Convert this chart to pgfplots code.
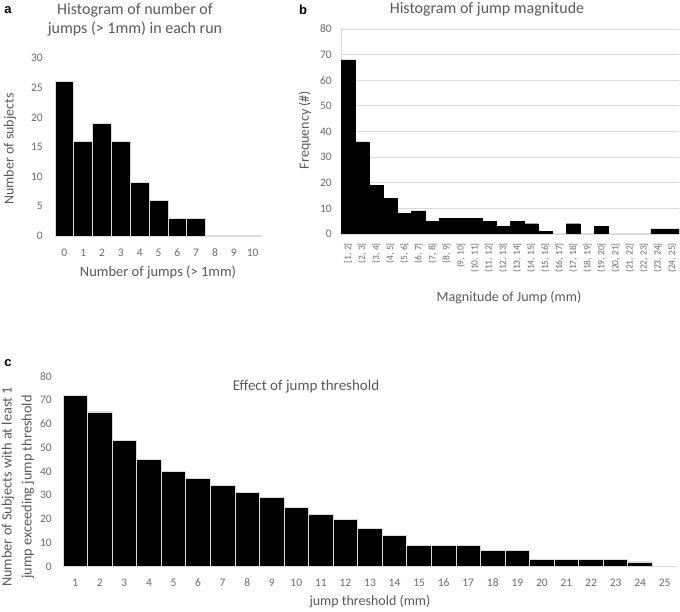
\documentclass[border=0pt]{standalone}
\usepackage{fontspec}
\setmainfont{Carlito}
\newfontfamily\arialf{Liberation Sans}
\usepackage{pgfplots}
\pgfplotsset{compat=1.18}
\definecolor{txt}{HTML}{595959}
\definecolor{tick}{HTML}{6A6A6A}
\definecolor{gridc}{HTML}{D9D9D9}
\pgfplotsset{
  myax/.style={
    scale only axis, anchor=south west,
    /pgf/number format/assume math mode=true,
    axis x line*=bottom, axis y line*=left,
    major tick length=0pt,
    x axis line style={gridc, line width=0.8pt, -},
    ymin=0,
    ticklabel style={font=\fontsize{11.5}{13}\selectfont, text=tick, inner sep=0pt},
    yticklabel style={anchor=east},
  }
}
\begin{document}
\begin{tikzpicture}[x=1pt,y=1pt]
\useasboundingbox (0,0) rectangle (680,611);
% ---------------- panel a
\begin{axis}[myax, at={(55pt,375pt)}, width=207pt, height=178pt,
  xmin=-0.5, xmax=10.5, ymax=30, ytick={0,5,...,30}, xtick={0,...,10},
  y axis line style={draw=none},
  xticklabel style={anchor=base, yshift=-20.5pt},
  yticklabel style={xshift=-12pt},
  ybar, bar width=1]
\addplot[fill=black, draw=gridc, line width=0.8pt] coordinates {
(0,26) (1,16) (2,19) (3,16) (4,9) (5,6) (6,3) (7,3) (8,0) (9,0) (10,0)};
\end{axis}
\node[text=txt, align=center, font=\fontsize{16}{18.5}\selectfont] at (135,591) {Histogram of number of\\jumps (> 1mm) in each run};
\node[text=txt, font=\fontsize{14.5}{16}\selectfont] at (158,339) {Number of jumps (> 1mm)};
\node[text=txt, rotate=90, font=\fontsize{14}{16}\selectfont] at (10,462) {Number of subjects};
\node[font=\arialf\bfseries\fontsize{13}{14}\selectfont] at (8,601) {a};
% ---------------- panel b
\begin{axis}[myax, at={(341pt,377pt)}, width=338pt, height=205pt,
  xmin=0.5, xmax=24.5, ymax=80, ytick={0,10,...,80}, xtick={1,...,24},
  ymajorgrids, grid style={gridc, line width=0.8pt},
  y axis line style={gridc, line width=0.8pt, -},
  yticklabel style={xshift=-9pt},
  xticklabels={{[1, 2]},{(2, 3]},{(3, 4]},{(4, 5]},{(5, 6]},{(6, 7]},{(7, 8]},{(8, 9]},{(9, 10]},{(10, 11]},{(11, 12]},{(12, 13]},{(13, 14]},{(14, 15]},{(15, 16]},{(16, 17]},{(17, 18]},{(18, 19]},{(19, 20]},{(20, 21]},{(21, 22]},{(22, 23]},{(23, 24]},{(24, 25]}},
  xticklabel style={yshift=-9pt, rotate=90, anchor=east, font=\fontsize{9.5}{10}\selectfont},
  ybar, bar width=1]
\addplot[fill=black, draw=black, line width=0.4pt] coordinates {
(1,68) (2,36) (3,19) (4,14) (5,8) (6,9) (7,5) (8,6) (9,6) (10,6) (11,5) (12,3)
(13,5) (14,4) (15,1) (16,0) (17,4) (18,0) (19,3) (20,0) (21,0) (22,0) (23,2) (24,2)};
\end{axis}
\node[text=txt, font=\fontsize{16}{18.5}\selectfont] at (487,602) {Histogram of jump magnitude};
\node[text=txt, font=\fontsize{14}{16}\selectfont] at (509,313) {Magnitude of Jump (mm)};
\node[text=txt, rotate=90, font=\fontsize{14}{16}\selectfont] at (305,481) {Frequency (\#)};
\node[font=\arialf\bfseries\fontsize{13}{14}\selectfont] at (303,601) {b};
% ---------------- panel c
\begin{axis}[myax, at={(63pt,44.3pt)}, width=614pt, height=190.5pt,
  xmin=0.5, xmax=25.5, ymax=80, ytick={0,10,...,80}, xtick={1,...,25},
  y axis line style={draw=none},
  xticklabel style={anchor=base, yshift=-20pt},
  yticklabel style={xshift=-11pt},
  ybar, bar width=1]
\addplot[fill=black, draw=gridc, line width=0.8pt] coordinates {
(1,72) (2,65) (3,53) (4,45) (5,40) (6,37) (7,34) (8,31) (9,29) (10,25) (11,22) (12,20)
(13,16) (14,13) (15,9) (16,9) (17,9) (18,7) (19,7) (20,3) (21,3) (22,3) (23,3) (24,2) (25,0)};
\end{axis}
\node[text=txt, font=\fontsize{15}{17}\selectfont] at (306,224) {Effect of jump threshold};
\node[text=txt, font=\fontsize{14}{16}\selectfont] at (370,9) {jump threshold (mm)};
\node[text=txt, rotate=90, align=center, font=\fontsize{14.3}{20}\selectfont] at (18,124) {Number of Subjects with at least 1\\jump exceeding jump threshold};
\node[font=\arialf\bfseries\fontsize{13}{14}\selectfont] at (8,248) {c};
\end{tikzpicture}
\end{document}
